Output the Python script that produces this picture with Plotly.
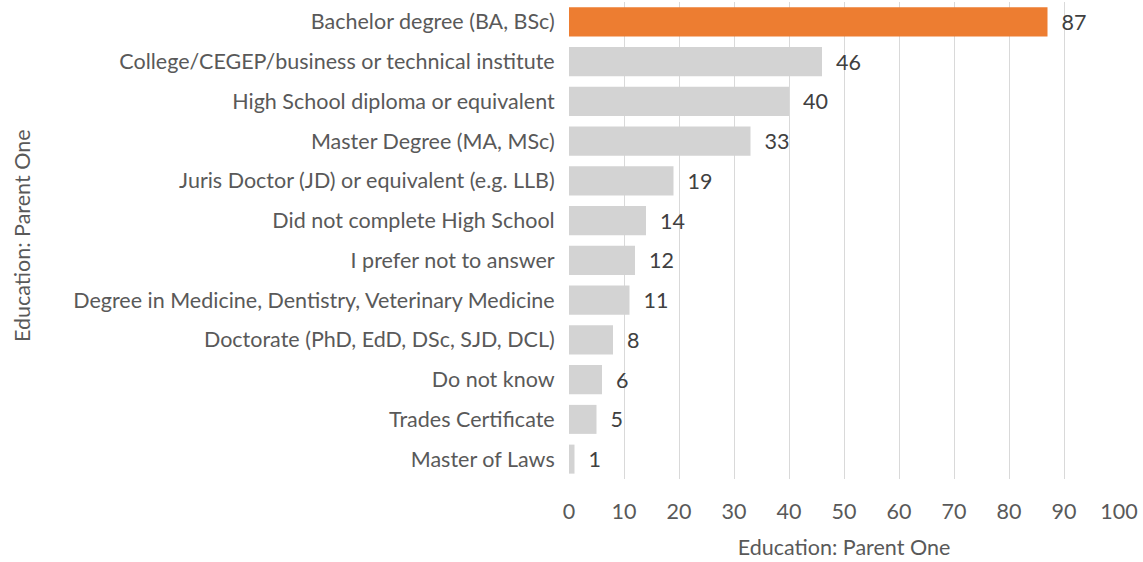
import plotly.graph_objects as go

categories = [
    "Bachelor degree (BA, BSc)",
    "College/CEGEP/business or technical institute",
    "High School diploma or equivalent",
    "Master Degree (MA, MSc)",
    "Juris Doctor (JD) or equivalent (e.g. LLB)",
    "Did not complete High School",
    "I prefer not to answer",
    "Degree in Medicine, Dentistry, Veterinary Medicine",
    "Doctorate (PhD, EdD, DSc, SJD, DCL)",
    "Do not know",
    "Trades Certificate",
    "Master of Laws",
]
values = [87, 46, 40, 33, 19, 14, 12, 11, 8, 6, 5, 1]
highlight = "Bachelor degree (BA, BSc)"
x_ticks = [0, 10, 20, 30, 40, 50, 60, 70, 80, 90, 100]
axis_title = "Education: Parent One"

colors = ["#ED7D31" if c == highlight else "#D3D3D3" for c in categories]

FONT = "Lato, Open Sans, sans-serif"
TXT = "#595959"
FS = 21.5

L, R, T, B = 569, 24, 2, 83
W, H = 1143, 562

fig = go.Figure(go.Bar(
    x=values,
    y=categories,
    orientation="h",
    marker=dict(color=colors, line=dict(width=0)),
    text=["  " + str(v) for v in values],
    textposition="outside",
    textfont=dict(family=FONT, size=FS, color="#404040"),
    cliponaxis=False,
    hoverinfo="x+y",
))

fig.update_layout(
    width=W,
    height=H,
    margin=dict(l=L, r=R, t=T, b=B, autoexpand=False),
    paper_bgcolor="white",
    plot_bgcolor="white",
    bargap=0.27,
    showlegend=False,
    font=dict(family=FONT, color=TXT, size=FS),
    xaxis=dict(
        range=[0, 100],
        tickvals=x_ticks,
        ticktext=[str(t) for t in x_ticks],
        showgrid=True,
        gridcolor="#D9D9D9",
        gridwidth=1,
        zeroline=False,
        showline=False,
        ticks="outside",
        ticklen=13,
        tickcolor="rgba(0,0,0,0)",
        tickfont=dict(family=FONT, size=FS, color=TXT),
        title=dict(text=axis_title, font=dict(family=FONT, size=FS, color=TXT), standoff=17),
        automargin=False,
        fixedrange=True,
    ),
    yaxis=dict(
        categoryorder="array",
        categoryarray=categories[::-1],
        range=[-0.5, len(categories) - 0.5],
        showgrid=False,
        zeroline=False,
        showline=False,
        ticks="outside",
        ticklen=9,
        tickcolor="rgba(0,0,0,0)",
        tickfont=dict(family=FONT, size=FS, color=TXT),
        automargin=False,
        fixedrange=True,
    ),
    annotations=[dict(
        text=axis_title,
        textangle=-90,
        xref="paper", yref="paper",
        x=(22 - L) / (W - L - R),
        y=1 - (236 - T) / (H - T - B),
        xanchor="center", yanchor="middle",
        showarrow=False,
        font=dict(family=FONT, size=FS, color=TXT),
    )],
)

fig.write_html(
    "out.html",
    config={"displayModeBar": False},
    post_script="document.body.style.margin='0';document.body.style.overflow='hidden';",
)
